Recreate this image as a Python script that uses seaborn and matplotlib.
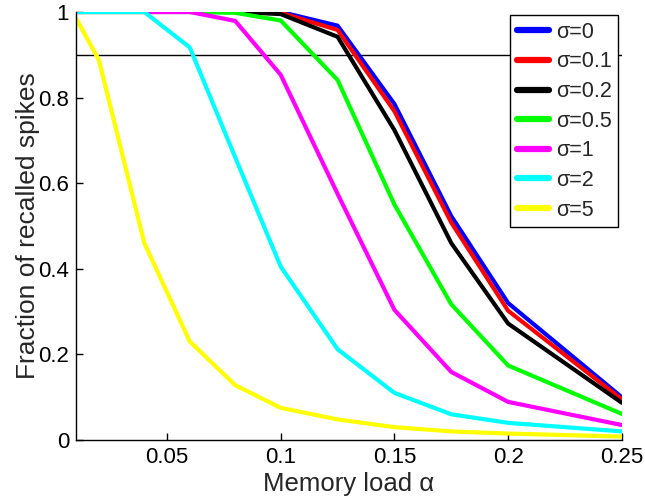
import matplotlib
matplotlib.use("Agg")
import matplotlib.pyplot as plt
import seaborn as sns
import pandas as pd

alpha = [0.01, 0.02, 0.04, 0.06, 0.08, 0.1, 0.125, 0.15, 0.175, 0.2, 0.25]
labels = ["σ=0", "σ=0.1", "σ=0.2", "σ=0.5", "σ=1", "σ=2", "σ=5"]
colors = ["#0000ff", "#ff0000", "#000000", "#00ff00", "#ff00ff", "#00ffff", "#ffff00"]

s0 = [1, 1, 1, 1, 1, 1, 0.968, 0.785, 0.523, 0.32, 0.10]
s01 = [1, 1, 1, 1, 1, 0.998, 0.958, 0.768, 0.508, 0.302, 0.095]
s02 = [1, 1, 1, 1, 1, 0.995, 0.942, 0.724, 0.46, 0.272, 0.087]
s05 = [1, 1, 1, 1, 0.998, 0.98, 0.841, 0.55, 0.317, 0.174, 0.061]
s1 = [1, 1, 1, 1, 0.979, 0.853, 0.575, 0.304, 0.159, 0.089, 0.035]
s2 = [1, 1, 1, 0.917, 0.66, 0.405, 0.212, 0.11, 0.06, 0.04, 0.02]
s5 = [0.985, 0.888, 0.46, 0.23, 0.128, 0.075, 0.048, 0.03, 0.02, 0.015, 0.008]
series = [s0, s01, s02, s05, s1, s2, s5]

rows = []
for lab, vals in zip(labels, series):
    for a, v in zip(alpha, vals):
        rows.append({"alpha": a, "frac": v, "sigma": lab})
df = pd.DataFrame(rows)

sns.set_style("white")
plt.rcParams["font.family"] = ["Liberation Sans", "DejaVu Sans"]

fig = plt.figure(figsize=(6.45, 4.98), dpi=100)
ax = fig.add_axes([0.118, 0.1165, 0.846, 0.8595])

ax.axhline(0.9, color="black", lw=1.0, zorder=1)
sns.lineplot(data=df, x="alpha", y="frac", hue="sigma", hue_order=labels,
             palette=dict(zip(labels, colors)), lw=3.0, ax=ax, sort=False,
             zorder=2)

ax.set_xlim(0.01, 0.25)
ax.set_ylim(0, 1)
ax.set_xticks([0.05, 0.1, 0.15, 0.2, 0.25])
ax.set_xticklabels(["0.05", "0.1", "0.15", "0.2", "0.25"])
ax.set_yticks([0, 0.2, 0.4, 0.6, 0.8, 1])
ax.set_yticklabels(["0", "0.2", "0.4", "0.6", "0.8", "1"])
ax.tick_params(direction="in", length=5, width=1, labelsize=16, colors="black",
               bottom=True, left=True, pad=5)
ax.set_xlabel("Memory load α", fontsize=18.5, labelpad=3)
ax.set_ylabel("Fraction of recalled spikes", fontsize=19, labelpad=-1)

for s in ["top", "right"]:
    ax.spines[s].set_visible(False)
for s in ["left", "bottom"]:
    ax.spines[s].set_color("black")
    ax.spines[s].set_linewidth(1.0)

h, l = ax.get_legend_handles_labels()
leg = ax.legend(h, l, loc="upper right", fontsize=15.5, frameon=True, fancybox=False,
                edgecolor="black", facecolor="white", framealpha=1.0,
                handlelength=1.5, handletextpad=0.3,
                labelspacing=0.40, borderpad=0.3, borderaxespad=0,
                bbox_to_anchor=(0.993, 0.992))
leg.set_zorder(10)
leg.get_frame().set_linewidth(1.0)
for line in leg.get_lines():
    line.set_linewidth(4.5)

fig.savefig("out.png", dpi=100)
